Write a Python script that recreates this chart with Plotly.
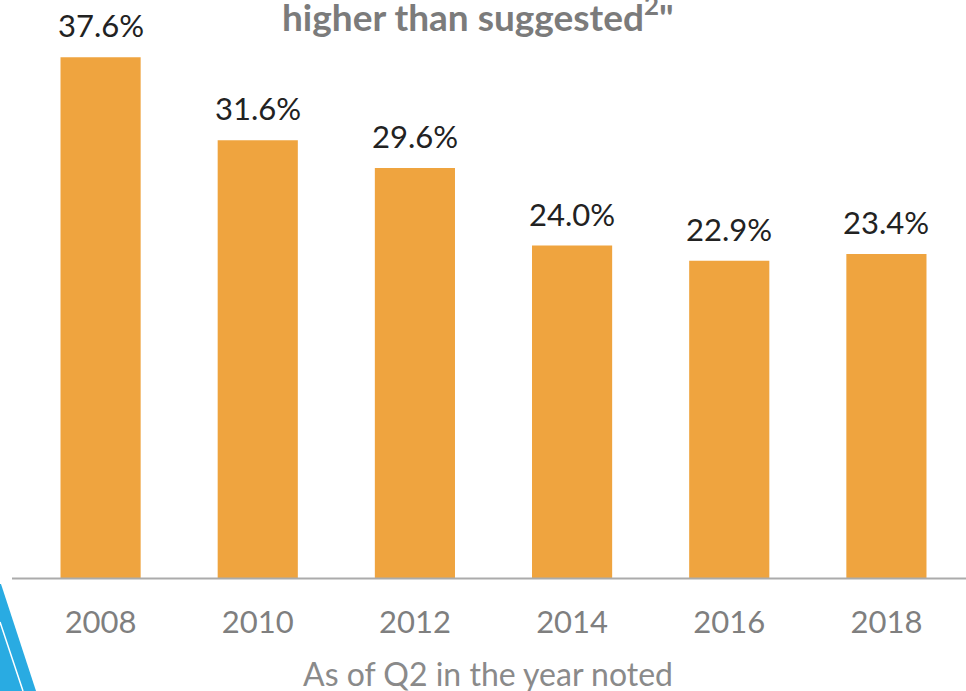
import plotly.graph_objects as go

years = ["2008", "2010", "2012", "2014", "2016", "2018"]
shares = [37.6, 31.6, 29.6, 24.0, 22.9, 23.4]
title_text = "higher than suggested<sup>2</sup>\""
axis_caption = "As of Q2 in the year noted"

W, H = 966, 691
ML, MR, MT, MB = 22, 1, 24, 113

BAR_COLOR = "#EFA43F"
LABEL_FONT = "Lato"

positions = list(range(len(years)))


def px_x(x):
    return (x - ML) / (W - ML - MR)


def px_y(y):
    return (H - MB - y) / (H - MT - MB)


fig = go.Figure(
    go.Bar(
        x=positions,
        y=shares,
        marker=dict(color=BAR_COLOR, line=dict(width=0)),
        width=0.51,
        hoverinfo="skip",
    )
)

# value labels above each bar
for pos, v in zip(positions, shares):
    fig.add_annotation(
        x=pos, y=v, text=f"{v:.1f}%", showarrow=False,
        xref="x", yref="y",
        yanchor="bottom", yshift=11,
        font=dict(family=LABEL_FONT, size=31, color="#222222"),
    )

# heading fragment at the top
fig.add_annotation(
    x=px_x(478), y=px_y(14), xref="paper", yref="paper",
    text=title_text, showarrow=False, xanchor="center", yanchor="middle",
    font=dict(family=LABEL_FONT, size=37, color="#7B7B7B", weight="bold"),
)

# caption under the axis
fig.add_annotation(
    x=px_x(488), y=px_y(673), xref="paper", yref="paper",
    text=axis_caption, showarrow=False, xanchor="center", yanchor="middle",
    font=dict(family=LABEL_FONT, size=32, color="#8A8A8A"),
)

# baseline rule
fig.add_shape(
    type="line", xref="paper", yref="paper",
    x0=px_x(12), x1=px_x(966), y0=px_y(578.5), y1=px_y(578.5),
    line=dict(color="#ABABAB", width=2),
)

# blue corner accent with a thin white stripe
fig.add_shape(
    type="path", xref="paper", yref="paper",
    path=(
        f"M {px_x(0)},{px_y(584)} L {px_x(1)},{px_y(584)} "
        f"L {px_x(36)},{px_y(691)} L {px_x(0)},{px_y(691)} Z"
    ),
    fillcolor="#29ABE2", line=dict(width=0), layer="above",
)
fig.add_shape(
    type="line", xref="paper", yref="paper",
    x0=px_x(0), y0=px_y(622), x1=px_x(23), y1=px_y(691),
    line=dict(color="white", width=1.5), layer="above",
)

fig.update_layout(
    width=W, height=H,
    margin=dict(l=ML, r=MR, t=MT, b=MB, pad=0),
    paper_bgcolor="white", plot_bgcolor="white",
    showlegend=False,
    xaxis=dict(
        range=[-0.5, len(years) - 0.5],
        tickmode="array", tickvals=positions, ticktext=years,
        showgrid=False, zeroline=False, showline=False,
        ticks="", ticklabelstandoff=23,
        tickfont=dict(family=LABEL_FONT, size=31, color="#7F7F7F"),
        fixedrange=True,
    ),
    yaxis=dict(
        range=[0, 40], visible=False, showgrid=False, zeroline=False,
        fixedrange=True,
    ),
)

fig.write_html("out.html")
